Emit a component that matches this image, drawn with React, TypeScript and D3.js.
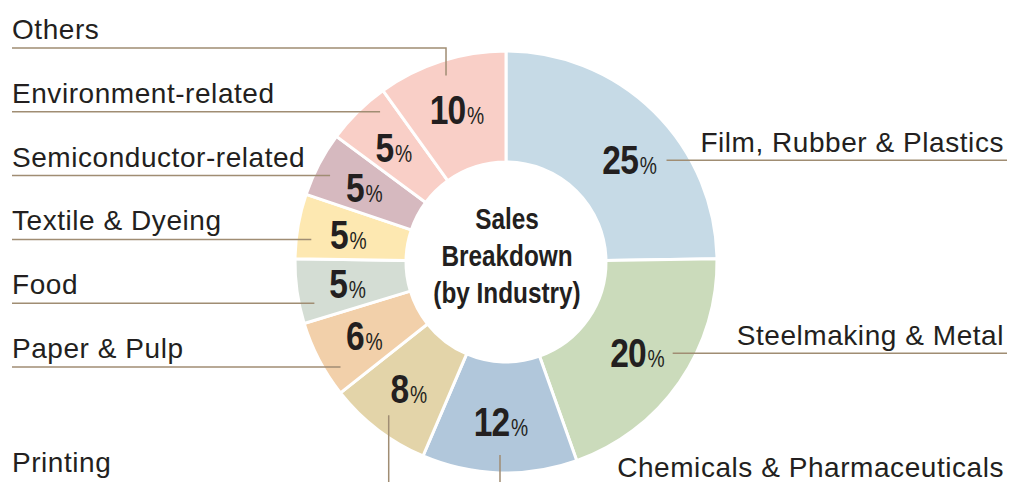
import React from 'react'
import * as d3 from 'd3'

const categories = [
  'Film, Rubber & Plastics',
  'Steelmaking & Metal',
  'Chemicals & Pharmaceuticals',
  'Printing',
  'Paper & Pulp',
  'Food',
  'Textile & Dyeing',
  'Semiconductor-related',
  'Environment-related',
  'Others',
]
const shares = [25, 20, 12, 8, 6, 5, 5, 5, 5, 10]
const sliceColors = [
  '#c6dae6', '#cbdbbb', '#b1c7db', '#e3d4a9', '#f2d0aa',
  '#d4ddd4', '#fde8b1', '#d6b9bf', '#f9cfc7', '#f9cfc7',
]
const centerTitle = ['Sales', 'Breakdown', '(by Industry)']

const width = 1010
const height = 482
const cx = 506
const cy = 262
const outerR = 211
const innerR = 100
const labelR = 160
const lineColor = '#a08d73'
const textColor = '#231f20'
const plain = "'Liberation Sans', Arimo, Arial, sans-serif"
const squeeze = 0.84 // fake a condensed face by scaling the bold sans

const toXY = (angle: number, r: number): [number, number] =>
  [cx + r * Math.sin(angle), cy - r * Math.cos(angle)]

const App = () => {
  const pie = d3.pie<number>().sort(null).value(d => d)
  const arcs = pie(shares)
  const arc = d3.arc<d3.PieArcDatum<number>>().innerRadius(innerR).outerRadius(outerR)
  const deg = (a: number) => a * 180 / Math.PI

  // label angle nudge (degrees), the top-right label sits a bit lower
  const nudge: Record<number, number> = {0: 6}

  const rowY = (row: number) => 48 + row * 63.8

  const labels = arcs.map((a, i) => {
    const mid = (a.startAngle + a.endAngle) / 2
    const m = deg(mid)
    const la = mid + ((nudge[i] || 0) * Math.PI / 180)
    const [lx, ly] = toXY(la, labelR)
    let path = ''
    let tx = 0, ty = 0, anchor = 'start'
    if (m < 150) {
      const r = 190
      const x0 = cx + Math.sqrt(r * r - (ly - cy) * (ly - cy))
      path = `M${x0},${ly}H${width - 3}`
      tx = width - 6; ty = ly - 8; anchor = 'end'
    } else if (m < 225) {
      const [px, py] = toXY(mid, 193)
      const yb = 486
      if (m < 200) {
        path = `M${px},${py}V${yb}H${width - 3}`
        tx = width - 6; ty = 477; anchor = 'end'
      } else {
        path = `M${px},${py}V${yb}H12`
        tx = 12; ty = 472
      }
    } else if (m < 330) {
      const row = arcs.length - 1 - i
      const y = rowY(row)
      const r = 196
      const x0 = cx - Math.sqrt(r * r - (y - cy) * (y - cy))
      path = `M12,${y}H${x0}`
      tx = 12; ty = y - 9
    } else {
      const [px, py] = toXY(mid, 196)
      const y = rowY(0)
      path = `M${px},${py}V${y}H12`
      tx = 12; ty = y - 9
    }
    return {i, lx, ly, path, tx, ty, anchor}
  })

  return (
    <svg width={width} height={height} style={{position: 'absolute', left: 0, top: 0, background: '#fff'}}>
      <g>
        {arcs.map((a, i) => (
          <path key={i} d={arc(a) || ''} transform={`translate(${cx},${cy})`}
            fill={sliceColors[i]} stroke="#fff" strokeWidth={3} />
        ))}
      </g>
      <g>
        {labels.map(l => (
          <path key={l.i} d={l.path} fill="none" stroke={lineColor} strokeWidth={1.5} />
        ))}
      </g>
      <g>
        {labels.map(l => (
          <text key={l.i} transform={`translate(${l.lx},${l.ly + 14}) scale(${squeeze},1)`}
            textAnchor="middle" fill={textColor} fontFamily={plain}>
            <tspan fontSize={40} fontWeight="bold" letterSpacing={-1}>{shares[l.i]}</tspan>
            <tspan fontSize={23} dx={2}>%</tspan>
          </text>
        ))}
      </g>
      <g>
        {labels.map(l => (
          <text key={l.i} x={l.tx} y={l.ty} textAnchor={l.anchor} fill={textColor}
            fontFamily={plain} fontSize={28} letterSpacing={0.55}>
            {categories[l.i]}
          </text>
        ))}
      </g>
      <g>
        {centerTitle.map((t, i) => (
          <text key={i} transform={`translate(${cx + 1},${cy - 33 + i * 37}) scale(${squeeze},1)`}
            textAnchor="middle" fill={textColor}
            fontFamily={plain} fontWeight="bold" fontSize={29}>
            {t}
          </text>
        ))}
      </g>
    </svg>
  )
}

export default App
